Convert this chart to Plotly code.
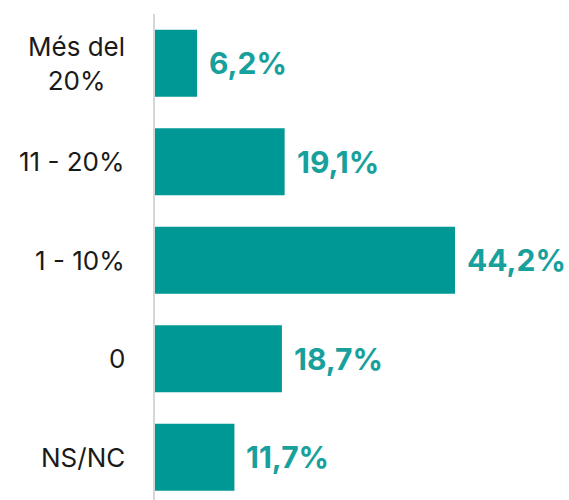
import plotly.graph_objects as go

categories = ["Més del<br>20%", "11 - 20%", "1 - 10%", "0", "NS/NC"]
values = [6.2, 19.1, 44.2, 18.7, 11.7]
value_labels = ["6,2%", "19,1%", "44,2%", "18,7%", "11,7%"]

bar_color = "#009894"
text_color = "#17a09c"
pos = list(range(len(categories)))

fig = go.Figure()
fig.add_trace(go.Bar(
    x=values, y=pos, orientation="h",
    marker=dict(color=bar_color, line=dict(width=0)),
    width=0.68, hoverinfo="skip",
))

annotations = []
for p, v, lab, cat in zip(pos, values, value_labels, categories):
    annotations.append(dict(
        x=v, y=p, xref="x", yref="y", text="<b>" + lab + "</b>",
        xanchor="left", yanchor="middle", xshift=11, showarrow=False,
        borderpad=0,
        font=dict(family="Inter, sans-serif", size=30, color=text_color),
    ))
    annotations.append(dict(
        x=0, y=p, xref="paper", yref="y", text=cat,
        xanchor="right", yanchor="middle", align="center", xshift=-28,
        showarrow=False,
        font=dict(family="Inter, sans-serif", size=26, color="#1a1a1a"),
    ))

fig.update_layout(
    width=569, height=500,
    margin=dict(l=155, r=0, t=14, b=0),
    paper_bgcolor="white", plot_bgcolor="white",
    showlegend=False,
    annotations=annotations,
    xaxis=dict(range=[0, 61.0], visible=False, fixedrange=True),
    yaxis=dict(range=[4.434, -0.5], showticklabels=False, showgrid=False,
               zeroline=False, showline=True, linecolor="#d6d6d6",
               linewidth=2, ticks=""),
)

fig.write_html(
    "out.html",
    config={"displayModeBar": False, "staticPlot": True},
    post_script="document.body.style.margin='0px';document.body.style.overflow='hidden';",
)
